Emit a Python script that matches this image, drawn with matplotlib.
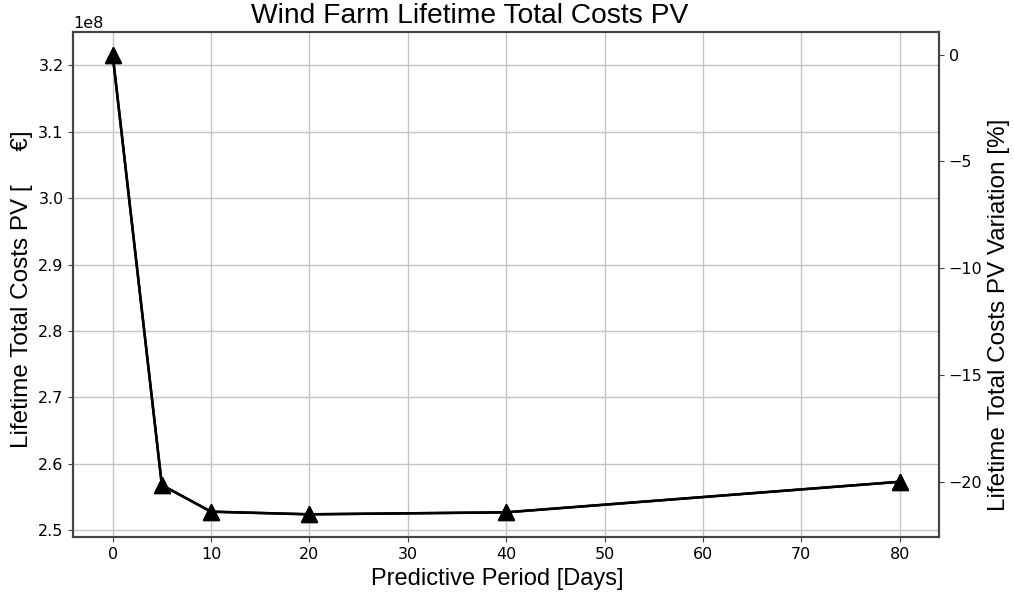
import numpy as np
import matplotlib.pyplot as plt

plt.rcParams['font.family'] = 'DejaVu Sans'

# predictive period in days and lifetime total costs PV (EUR)
periods = [0, 5, 10, 20, 40, 80]
costs = [3.216e8, 2.568e8, 2.528e8, 2.524e8, 2.527e8, 2.573e8]

costs = np.array(costs)
variation = (costs / costs[0] - 1) * 100

label_font = 'Liberation Sans'

fig = plt.figure(figsize=(10.14, 5.98), dpi=100)
ax = fig.add_axes([0.0723, 0.1015, 0.8537, 0.8455])
ax.plot(periods, costs, color='black', lw=1.8, marker='^', markersize=11)
ax.grid(True, color='#c4c4c4', lw=1.0)
ax.set_xticks(np.arange(0, 81, 10))
ax.tick_params(labelsize=11.5, color='#444444')
ax.yaxis.get_offset_text().set_fontsize(11.5)
ax.set_xlabel('Predictive Period [Days]', fontsize=17, family=label_font, x=0.49)
ax.set_ylabel('Lifetime Total Costs PV [     €]', fontsize=17.5, family=label_font, y=0.49)
ax.set_title('Wind Farm Lifetime Total Costs PV', fontsize=20.3, family=label_font,
             pad=6, x=0.458)

ax2 = ax.twinx()
ax2.plot(periods, variation, color='black', lw=1.8, marker='^', markersize=11)
ax2.set_yticks([0, -5, -10, -15, -20])
ax2.tick_params(labelsize=11.5, color='#444444')
ax2.set_ylabel('Lifetime Total Costs PV Variation [%]', fontsize=17.5, family=label_font,
               y=0.44)

for a in (ax, ax2):
    for s in a.spines.values():
        s.set_color('#444444')
        s.set_linewidth(1.5)

fig.savefig('out.png', dpi=100)
